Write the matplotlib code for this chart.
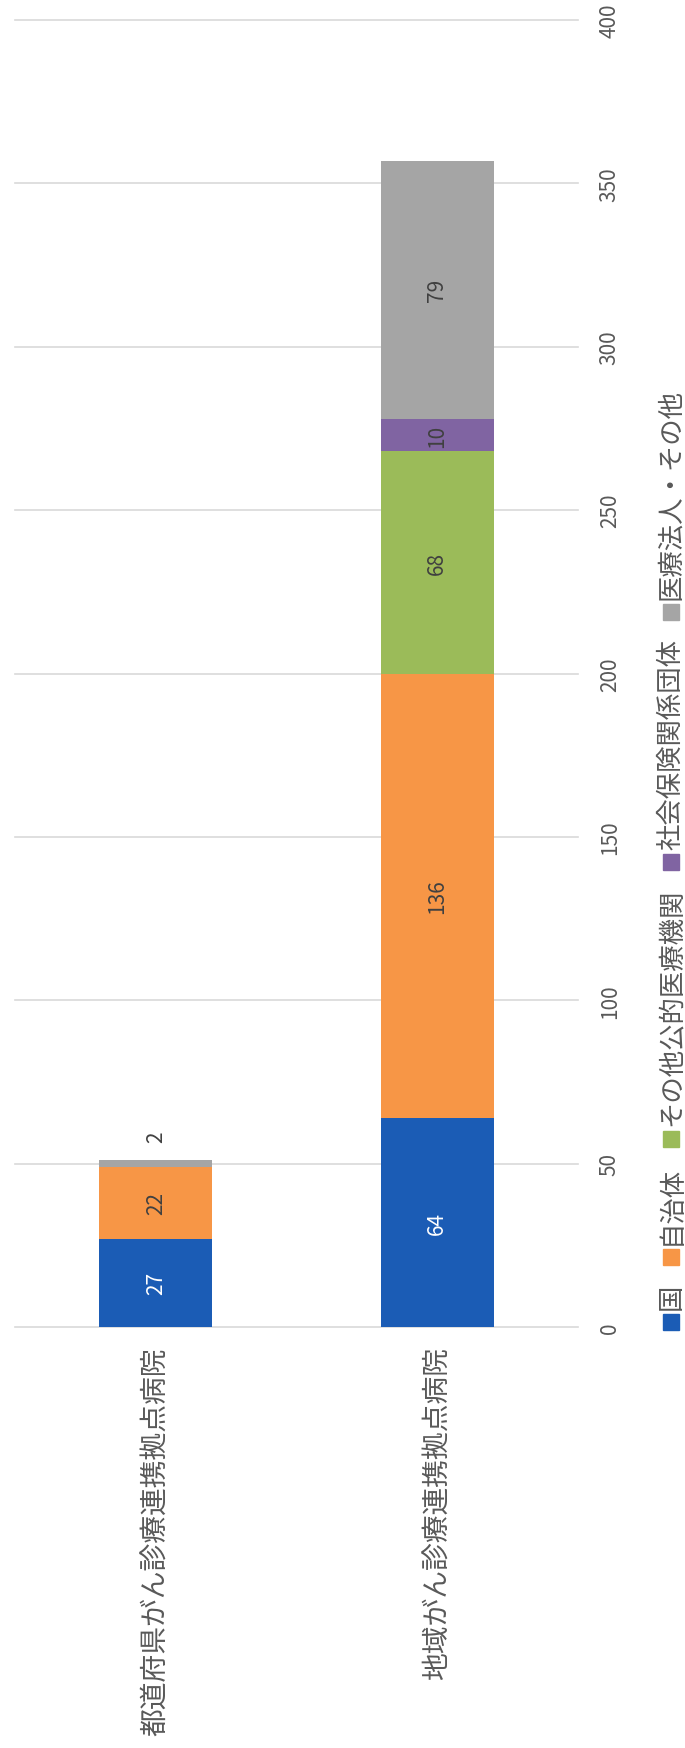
import matplotlib
matplotlib.use('Agg')
import matplotlib.pyplot as plt
from matplotlib.patches import Rectangle

plt.rcParams['font.family'] = ['Noto Sans CJK JP', 'DejaVu Sans']

categories = ['都道府県がん診療連携拠点病院', '地域がん診療連携拠点病院']
series_names = ['国', '自治体', 'その他公的医療機関', '社会保険関係団体', '医療法人・その他']
kuni = [27, 64]
jichitai = [22, 136]
sonota_koteki = [0, 68]
shakai_hoken = [0, 10]
iryo_hojin = [2, 79]
series = [kuni, jichitai, sonota_koteki, shakai_hoken, iryo_hojin]
yticks = [0, 50, 100, 150, 200, 250, 300, 350, 400]

colors = ['#1b5cb5', '#f79646', '#9bbb59', '#8064a2', '#a5a5a5']
label_colors = ['white', '#404040', '#404040', '#404040', '#404040']
grey_text = '#595959'

W, H = 685, 1749
fig = plt.figure(figsize=(W / 100, H / 100), dpi=100)
ax = fig.add_axes([15 / W, 1 - 1328 / H, (578 - 15) / W, (1328 - 21) / H])

x = list(range(len(categories)))
bottom = [0] * len(categories)
for vals, c, tc in zip(series, colors, label_colors):
    ax.bar(x, vals, 0.4, bottom=bottom, color=c, zorder=2)
    for i, (v, b) in enumerate(zip(vals, bottom)):
        if v == 0:
            continue
        if v < 5:
            # tiny segment: put the number just past the end of the bar
            ax.annotate(str(v), (i, b + v), xytext=(0, 17), textcoords='offset points',
                        rotation=90, ha='center', va='center', fontsize=15, color='#404040')
        else:
            ax.text(i, b + v / 2, str(v), rotation=90, ha='center', va='center',
                    fontsize=15, color=tc, zorder=3)
    bottom = [b + v for b, v in zip(bottom, vals)]

ax.set_xlim(-0.5, 1.5)
ax.set_ylim(0, 400)
ax.set_yticks(yticks)
ax.yaxis.tick_right()
ax.grid(axis='y', color='#d9d9d9', lw=1.2, zorder=0)
for g in ax.get_ygridlines():
    g.set_clip_on(False)
ax.set_axisbelow(True)
for s in ax.spines.values():
    s.set_visible(False)
ax.tick_params(axis='y', length=0, pad=15, labelrotation=90, labelsize=15, labelcolor=grey_text)
for lab in ax.get_yticklabels():
    lab.set_va('center')

ax.set_xticks(x, categories, rotation=90, fontsize=20, color=grey_text)
ax.tick_params(axis='x', length=0, pad=14)

# legend, laid out by hand along the right edge
renderer = fig.canvas.get_renderer()
y = 1331
xc = 671
for name, c in zip(series_names, colors):
    fig.patches.append(Rectangle(((xc - 8) / W, 1 - y / H), 16 / W, 16 / H,
                                 transform=fig.transFigure, color=c, figure=fig))
    y -= 16 + 5
    t = fig.text(xc / W, 1 - y / H, name, rotation=90, ha='center', va='bottom',
                 fontsize=19, color=grey_text)
    ext = t.get_window_extent(renderer)
    y -= ext.height + 18

fig.savefig('out.png', dpi=100, facecolor='white')
